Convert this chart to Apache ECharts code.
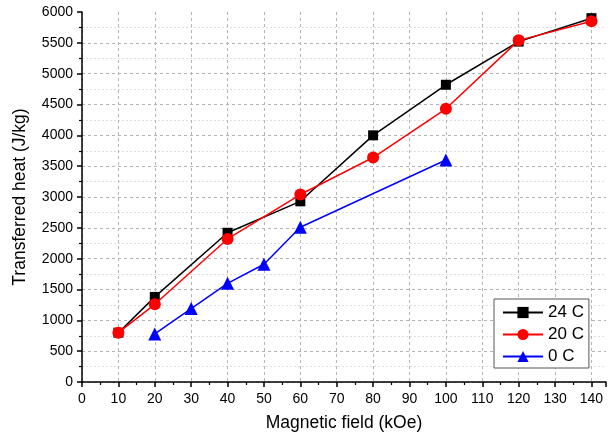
<!DOCTYPE html>
<html>
<head>
<meta charset="utf-8">
<script src="https://cdn.jsdelivr.net/npm/echarts@6/dist/echarts.min.js"></script>
<style>
html,body{margin:0;padding:0;background:#fff;}
#chart{width:610px;height:437px;}
</style>
</head>
<body>
<div id="chart"></div>
<script>
const seriesNames = ['24 C', '20 C', '0 C'];
const fields24 = [10, 20, 40, 60, 80, 100, 120, 140];
const heat24 = [800, 1380, 2420, 2930, 4000, 4820, 5520, 5900];
const fields20 = [10, 20, 40, 60, 80, 100, 120, 140];
const heat20 = [800, 1260, 2320, 3040, 3640, 4430, 5540, 5850];
const fields0 = [20, 30, 40, 50, 60, 100];
const heat0 = [780, 1190, 1600, 1910, 2510, 3600];

function pairs(xs, ys) { return xs.map((x, i) => [x, ys[i]]); }

const font = '"Liberation Sans", Arial, sans-serif';
const chart = echarts.init(document.getElementById('chart'));
chart.setOption({
  animation: false,
  grid: { left: 82, top: 12, right: 4, bottom: 54 },
  legend: {
    orient: 'vertical',
    left: 494, top: 299,
    padding: [5, 5, 3, 8],
    itemGap: 5,
    itemWidth: 40, itemHeight: 14,
    backgroundColor: '#fff',
    borderColor: '#555', borderWidth: 1, borderRadius: 0,
    textStyle: { fontFamily: font, fontSize: 17, color: '#000', lineHeight: 17 },
    data: seriesNames
  },
  xAxis: {
    type: 'value', min: 0, max: 144, interval: 10,
    name: 'Magnetic field (kOe)', nameLocation: 'middle', nameGap: 32,
    nameTextStyle: { fontFamily: font, fontSize: 17.5, color: '#000' },
    axisLine: { show: true, onZero: false, lineStyle: { color: '#000', width: 1.5 } },
    axisTick: { show: true, inside: false, length: 5, lineStyle: { color: '#000', width: 1.5 } },
    minorTick: { show: true, splitNumber: 2, length: 3, lineStyle: { color: '#000', width: 1.2 } },
    axisLabel: { fontFamily: font, fontSize: 14, color: '#000', margin: 10, showMaxLabel: false,
      formatter: v => (v % 10 === 0 ? String(v) : '') },
    splitLine: { show: true, showMaxLine: false, lineStyle: { color: '#b4b4b4', type: [3, 3], width: 1 } },
    minorSplitLine: { show: false }
  },
  yAxis: {
    type: 'value', min: 0, max: 6000, interval: 500,
    name: 'Transferred heat (J/kg)', nameLocation: 'middle', nameGap: 53,
    nameTextStyle: { fontFamily: font, fontSize: 17.5, color: '#000' },
    axisLine: { show: true, onZero: false, lineStyle: { color: '#000', width: 1.5 } },
    axisTick: { show: true, inside: false, length: 5, lineStyle: { color: '#000', width: 1.5 } },
    minorTick: { show: true, splitNumber: 2, length: 3, lineStyle: { color: '#000', width: 1.2 } },
    axisLabel: { fontFamily: font, fontSize: 14, color: '#000', margin: 9, formatter: v => String(v) },
    splitLine: { show: true, showMaxLine: false, lineStyle: { color: '#b4b4b4', type: [3, 3], width: 1 } },
    minorSplitLine: { show: true, lineStyle: { color: '#dcdcdc', type: [2, 2], width: 1 } }
  },
  series: [
    { name: seriesNames[0], type: 'line', data: pairs(fields24, heat24),
      symbol: 'rect', symbolSize: 10, z: 2,
      itemStyle: { color: '#000' }, lineStyle: { color: '#000', width: 1.5 } },
    { name: seriesNames[1], type: 'line', data: pairs(fields20, heat20),
      symbol: 'circle', symbolSize: 12, z: 3,
      itemStyle: { color: '#ff0000' }, lineStyle: { color: '#ff0000', width: 1.5 } },
    { name: seriesNames[2], type: 'line', data: pairs(fields0, heat0),
      symbol: 'triangle', symbolSize: 13, z: 4,
      itemStyle: { color: '#0000ff' }, lineStyle: { color: '#0000ff', width: 1.5 } }
  ]
});
</script>
</body>
</html>
